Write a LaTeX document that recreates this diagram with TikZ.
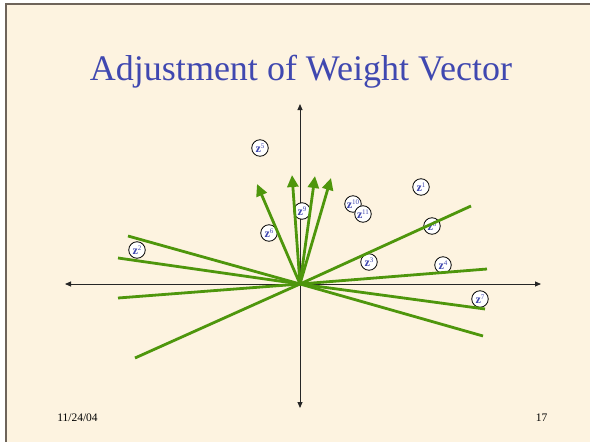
\documentclass[tikz,border=0pt]{standalone}
\usepackage{fontspec}
\setmainfont{Liberation Serif}
\usetikzlibrary{arrows.meta}
\definecolor{slidebg}{RGB}{253,243,224}
\definecolor{titleblue}{RGB}{64,72,176}
\definecolor{vecgreen}{RGB}{78,150,12}
\definecolor{edgegray}{RGB}{110,100,90}
\newcommand{\zlab}[1]{{\fontsize{12}{12}\selectfont\bfseries z}\kern-0.3pt\raisebox{3.6pt}{\fontsize{7}{7}\selectfont #1}}
\begin{document}
\begin{tikzpicture}[x=1pt,y=-1pt,
  axis/.style={line width=0.9pt,black!85,{Triangle[length=6pt,width=5pt]}-{Triangle[length=6pt,width=5pt]}},
  gline/.style={line width=2.8pt,vecgreen},
  garrow/.style={gline,-{Triangle[length=12pt,width=11pt]}},
  zc/.style={circle,draw=black,line width=0.8pt,fill=white,minimum size=16.5pt,inner sep=0pt,text=titleblue},
  txt/.style={inner sep=0pt,anchor=base}]
\useasboundingbox (0,0) rectangle (590,442);
\fill[white] (0,0) rectangle (590,442);
\fill[slidebg] (6,4) rectangle (590,442);
\draw[edgegray,line width=1.2pt] (6,442) -- (6,4) -- (590,4);
% title
\node[txt,text=titleblue,font=\fontsize{36}{36}\selectfont] (title) at (301,80) {Adjustment of Weight Vector};
% axes
\coordinate (O) at (300,284);
\coordinate (xl) at (65,284);
\coordinate (xr) at (541,284);
\coordinate (yt) at (300,104);
\coordinate (yb) at (300,408);
\draw[axis] (xl) -- (xr);
\draw[axis] (yt) -- (yb);
% sample points
\node[zc] (z1) at (421,187) {\zlab{1}};
\node[zc] (z2) at (137,250) {\zlab{2}};
\node[zc] (z3) at (369,262) {\zlab{3}};
\node[zc] (z4) at (443,265) {\zlab{4}};
\node[zc] (z5) at (260,148) {\zlab{5}};
\node[zc] (z6) at (269,233) {\zlab{6}};
\node[zc] (z7) at (480,299) {\zlab{7}};
\node[zc] (z8) at (432,226) {\zlab{8}};
\node[zc] (z9) at (302,211) {\zlab{9}};
\node[zc] (z10) at (353,204) {\zlab{10}};
\node[zc] (z11) at (363,214) {\zlab{11}};
% line end points
\coordinate (a1) at (257,184);
\coordinate (a2) at (292,175);
\coordinate (a3) at (315,176);
\coordinate (a4) at (331,178);
\coordinate (r1) at (471,206);
\coordinate (r2) at (487,269);
\coordinate (r3) at (485,309);
\coordinate (r4) at (483,336);
\coordinate (l1) at (128,236);
\coordinate (l2) at (118,258);
\coordinate (l3) at (118,298);
\coordinate (l4) at (135,358);
\foreach \p in {r1,r2,r3,r4,l1,l2,l3,l4} \draw[gline] (O) -- (\p);
\foreach \p in {a1,a2,a3,a4} \draw[garrow] (O) -- (\p);
% footer
\node[txt,font=\fontsize{11.5}{11.5}\selectfont] (date) at (77.5,421) {11/24/04};
\node[txt,font=\fontsize{11.5}{11.5}\selectfont] (page) at (541.5,421) {17};
\end{tikzpicture}
\end{document}
